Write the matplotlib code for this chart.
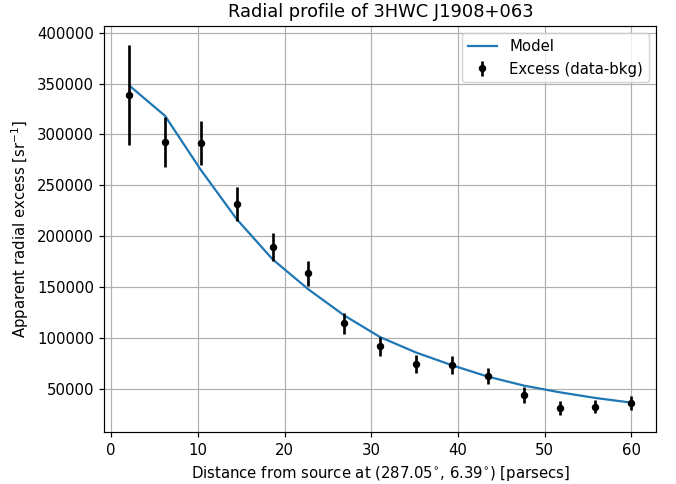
import matplotlib
matplotlib.use("Agg")
import matplotlib.pyplot as plt

distance = [2.07, 6.21, 10.35, 14.48, 18.62, 22.76, 26.90, 31.04, 35.17, 39.31,
            43.45, 47.59, 51.73, 55.86, 60.00]
excess = [338900, 292600, 291600, 231500, 189000, 163400, 114100, 91700, 74400,
          73000, 62500, 43800, 31300, 32200, 35900]
excess_err = [49500, 24500, 22000, 16500, 13800, 12000, 10500, 9200, 9000,
              8600, 8000, 7700, 6900, 6600, 6600]
model = [348200, 318300, 265000, 216700, 177200, 147600, 121900, 100600, 85500,
         73000, 61800, 53000, 46400, 40800, 36200]

DPI = 107
fig = plt.figure(figsize=(676 / DPI, 484 / DPI), dpi=DPI)
ax = fig.add_axes([104.3 / 676, 1 - 432.3 / 484, (656.3 - 104.3) / 676, (432.3 - 25.7) / 484])
ax.plot(distance, model, color="#1f77b4", lw=1.5, label="Model")
ax.errorbar(distance, excess, yerr=excess_err, fmt="o", color="black",
            markersize=4, elinewidth=1.8, capsize=0, label="Excess (data-bkg)")
ax.set_title("Radial profile of 3HWC J1908+063", fontsize=12)
ax.set_xlabel(r"Distance from source at (287.05$^{\circ}$, 6.39$^{\circ}$) [parsecs]", fontsize=10)
ax.set_ylabel(r"Apparent radial excess [sr$^{-1}$]", fontsize=10)
ax.grid(True, color="#b0b0b0", lw=0.8)
ax.set_axisbelow(True)
ax.set_ylim(7000, 407000)
ax.set_xlim(-0.8, 62.9)
ax.legend(loc="upper right", fontsize=10)
fig.savefig("out.png", dpi=DPI)
